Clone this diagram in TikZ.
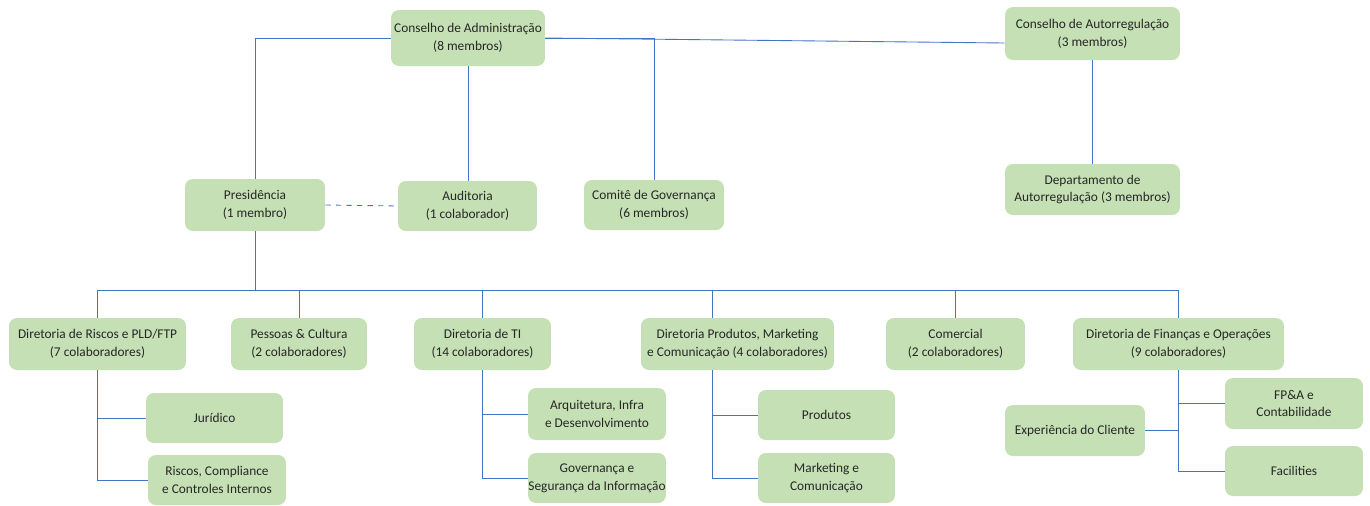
\documentclass[tikz,border=0pt]{standalone}
\usepackage{fontspec}
\setmainfont{Carlito}
\usepackage{tikz}
\definecolor{caixaverde}{HTML}{C5E0B4}
\definecolor{linhaazul}{HTML}{4472C4}
\begin{document}
\begin{tikzpicture}[x=0.02cm,y=-0.02cm,
    caixa/.style={fill=caixaverde,rounded corners=4.5pt,align=center,inner sep=0pt,
        text=black!85,font=\fontsize{7.6}{10.2}\selectfont},
    liga/.style={draw=linhaazul,line width=0.5pt}]
    \useasboundingbox (0,0) rectangle (1370,505);
    % topo
    \node[caixa,minimum width=3.08cm,minimum height=1.12cm] (ca) at (468,38) {Conselho de Administração\\(8 membros)};
    \node[caixa,minimum width=3.5cm,minimum height=1.06cm] (car) at (1092.5,33.5) {Conselho de Autorregulação\\(3 membros)};
    \node[caixa,minimum width=2.8cm,minimum height=1.04cm] (pres) at (255,205) {Presidência\\(1 membro)};
    \node[caixa,minimum width=2.78cm,minimum height=1cm] (aud) at (467.5,206) {Auditoria\\(1 colaborador)};
    \node[caixa,minimum width=2.8cm,minimum height=1cm] (comite) at (654,205) {Comitê de Governança\\(6 membros)};
    \node[caixa,minimum width=3.5cm,minimum height=1.02cm] (dep) at (1092.5,189.5) {Departamento de\\Autorregulação (3 membros)};
    % diretorias
    \node[caixa,minimum width=3.54cm,minimum height=1.04cm] (drisc) at (97.5,344) {Diretoria de Riscos e PLD/FTP\\(7 colaboradores)};
    \node[caixa,minimum width=2.72cm,minimum height=1.04cm] (pessoas) at (299,344) {Pessoas \& Cultura\\(2 colaboradores)};
    \node[caixa,minimum width=2.74cm,minimum height=1.04cm] (dti) at (482.5,344) {Diretoria de TI\\(14 colaboradores)};
    \node[caixa,minimum width=3.86cm,minimum height=1.04cm] (dprod) at (737.5,344) {Diretoria Produtos, Marketing\\e Comunicação (4 colaboradores)};
    \node[caixa,minimum width=2.78cm,minimum height=1.04cm] (comercial) at (955.5,344) {Comercial\\(2 colaboradores)};
    \node[caixa,minimum width=4.22cm,minimum height=1.04cm] (dfin) at (1178.5,344) {Diretoria de Finanças e Operações\\(9 colaboradores)};
    % areas
    \node[caixa,minimum width=2.74cm,minimum height=1cm] (jur) at (214.5,418) {Jurídico};
    \node[caixa,minimum width=2.76cm,minimum height=1cm] (rcc) at (217,480) {Riscos, Compliance\\e Controles Internos};
    \node[caixa,minimum width=2.76cm,minimum height=1.04cm] (arq) at (597,414) {Arquitetura, Infra\\e Desenvolvimento};
    \node[caixa,minimum width=2.76cm,minimum height=1cm] (gsi) at (597,478) {Governança e\\Segurança da Informação};
    \node[caixa,minimum width=2.74cm,minimum height=1cm] (prod) at (826.5,415) {Produtos};
    \node[caixa,minimum width=2.74cm,minimum height=1cm] (mkt) at (826.5,478) {Marketing e\\Comunicação};
    \node[caixa,minimum width=2.8cm,minimum height=1.02cm] (exp) at (1075,430.5) {Experiência do Cliente};
    \node[caixa,minimum width=2.76cm,minimum height=1.02cm] (fpa) at (1294,403.5) {FP\&A e\\Contabilidade};
    \node[caixa,minimum width=2.76cm,minimum height=1cm] (fac) at (1294,471) {Facilities};
    % ligacoes do topo
    \draw[liga] (ca.west) -| (pres.north);
    \draw[liga] (ca.south) -- (ca.south |- aud.north);
    \draw[liga] (ca.east) -| (comite.north);
    \draw[liga] (ca.east) -- ([yshift=-0.19cm]car.west);
    \draw[liga] (car.south) -- (dep.north);
    \draw[liga,dashed] (pres.east) -- (aud.west);
    % barramento das diretorias
    \coordinate (bus) at (255,290);
    \coordinate (dprodx) at ([xshift=-0.51cm]dprod.north);
    \draw[liga] (pres.south) -- (bus);
    \draw[liga] (drisc.north |- bus) -- (dfin.north |- bus);
    \foreach \n in {drisc,pessoas,dti,comercial,dfin}
        \draw[liga] (\n.north) -- (\n.north |- bus);
    \draw[liga] (dprodx) -- (dprodx |- bus);
    % areas
    \draw[liga] (drisc.south) -- (drisc.south |- rcc.west) -- (rcc.west);
    \draw[liga] (drisc.south |- jur.west) -- (jur.west);
    \draw[liga] (dti.south) -- (dti.south |- gsi.west) -- (gsi.west);
    \draw[liga] (dti.south |- arq.west) -- (arq.west);
    \draw[liga] (dprodx |- dprod.south) -- (dprodx |- mkt.west) -- (mkt.west);
    \draw[liga] (dprodx |- prod.west) -- (prod.west);
    \draw[liga] (dfin.south) -- (dfin.south |- fac.west) -- (fac.west);
    \draw[liga] (dfin.south |- fpa.west) -- (fpa.west);
    \draw[liga] (exp.east) -- (dfin.south |- exp.east);
\end{tikzpicture}
\end{document}
